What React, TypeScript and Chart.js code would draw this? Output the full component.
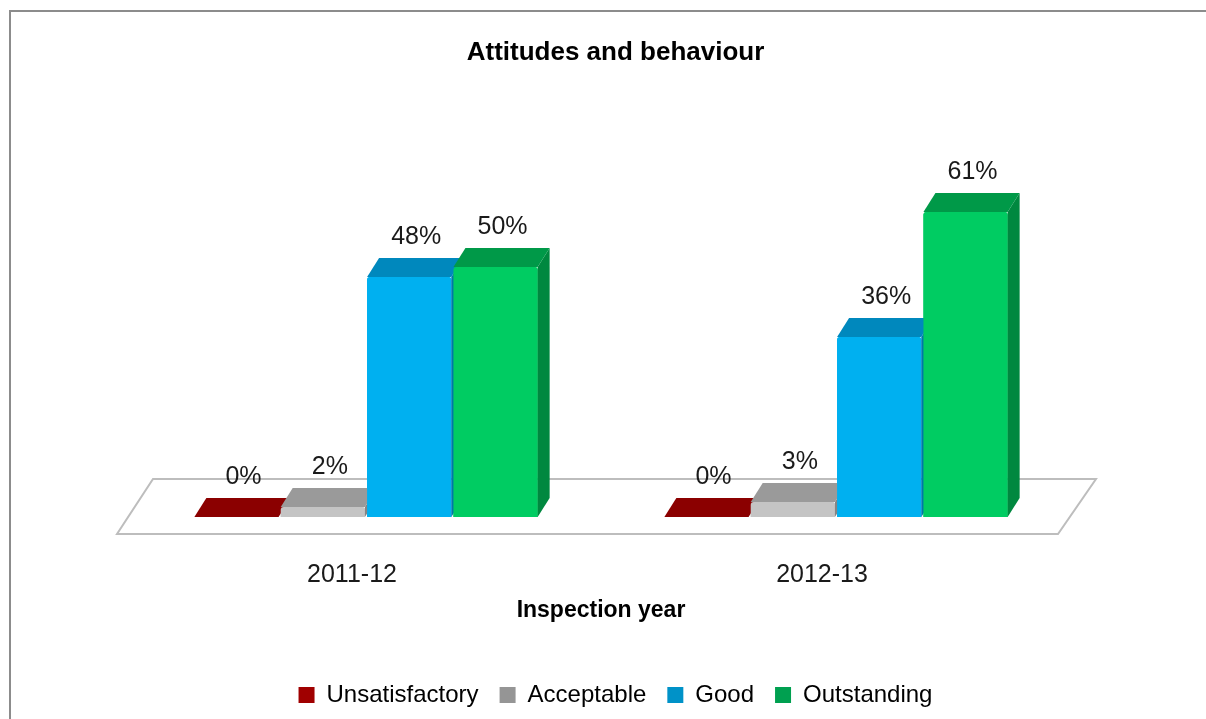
import React, { useEffect, useRef } from "react";
import { Chart, registerables } from "chart.js";

Chart.register(...registerables);

const categories = ["2011-12", "2012-13"];
const seriesNames = ["Unsatisfactory", "Acceptable", "Good", "Outstanding"];
const unsatisfactory = [0, 0];
const acceptable = [2, 3];
const good = [48, 36];
const outstanding = [50, 61];

const frontColors = ["#9a0000", "#c4c4c4", "#00b0f0", "#00cc62"];
const topColors = ["#8b0000", "#9a9a9a", "#0088bd", "#009948"];
const sideColors = ["#6e0000", "#858585", "#0078a8", "#00883f"];
const legendColors = ["#a00000", "#959595", "#0092c8", "#00a050"];

const FONT = "'Liberation Sans', Arial, sans-serif";
const DX = 12;
const DY = 19;

const depthPlugin = {
  id: "depth3d",
  beforeDatasetsDraw(chart: any) {
    const { ctx, chartArea, scales } = chart;
    const y0 = scales.y.getPixelForValue(0);
    ctx.save();
    ctx.beginPath();
    ctx.moveTo(chartArea.left + 22, y0 - 38);
    ctx.lineTo(chartArea.right + 25, y0 - 38);
    ctx.lineTo(chartArea.right - 13, y0 + 17);
    ctx.lineTo(chartArea.left - 14, y0 + 17);
    ctx.closePath();
    ctx.fillStyle = "#ffffff";
    ctx.fill();
    ctx.strokeStyle = "#bdbdbd";
    ctx.lineWidth = 2;
    ctx.stroke();
    ctx.restore();
  },
  afterDatasetsDraw(chart: any) {
    const { ctx } = chart;
    const n = chart.data.labels.length;
    const nd = chart.data.datasets.length;
    ctx.save();
    for (let j = 0; j < n; j++) {
      for (let i = 0; i < nd; i++) {
        const meta = chart.getDatasetMeta(i);
        const bar = meta.data[j];
        if (!bar) continue;
        const { x, y, base, width } = bar.getProps(["x", "y", "base", "width"], true);
        const L = x - width / 2;
        const R = x + width / 2;
        bar.draw(ctx);
        // side face
        ctx.beginPath();
        ctx.moveTo(R, y);
        ctx.lineTo(R + DX, y - DY);
        ctx.lineTo(R + DX, base - DY);
        ctx.lineTo(R, base);
        ctx.closePath();
        ctx.fillStyle = sideColors[i];
        ctx.fill();
        // top face
        ctx.beginPath();
        ctx.moveTo(L, y);
        ctx.lineTo(R, y);
        ctx.lineTo(R + DX, y - DY);
        ctx.lineTo(L + DX, y - DY);
        ctx.closePath();
        ctx.fillStyle = topColors[i];
        ctx.fill();
      }
    }
    // data labels
    ctx.font = `25px ${FONT}`;
    ctx.fillStyle = "#1a1a1a";
    ctx.textAlign = "center";
    ctx.textBaseline = "alphabetic";
    for (let i = 0; i < nd; i++) {
      const meta = chart.getDatasetMeta(i);
      const values = chart.data.datasets[i].data;
      meta.data.forEach((bar: any, j: number) => {
        const { x, y } = bar.getProps(["x", "y"], true);
        ctx.fillText(`${values[j]}%`, x + 7, y - 33);
      });
    }
    ctx.restore();
  },
};

export default function App() {
  const canvasRef = useRef<HTMLCanvasElement | null>(null);

  useEffect(() => {
    if (!canvasRef.current) return;
    Chart.defaults.font.family = FONT;
    const seriesValues = [unsatisfactory, acceptable, good, outstanding];
    const chart = new Chart(canvasRef.current, {
      type: "bar",
      data: {
        labels: categories,
        datasets: seriesNames.map((name, i) => ({
          label: name,
          data: seriesValues[i],
          backgroundColor: frontColors[i],
          borderWidth: 0,
          borderRadius: 3,
          categoryPercentage: 0.735,
          barPercentage: 0.975,
        })),
      },
      options: {
        animation: false,
        responsive: true,
        maintainAspectRatio: false,
        layout: { padding: { left: 14, right: 0, top: 0, bottom: 2 } },
        plugins: {
          tooltip: { enabled: false },
          title: {
            display: true,
            text: "Attitudes and behaviour",
            color: "#000",
            font: { family: FONT, size: 26, weight: "bold" },
            padding: { top: 25.4, bottom: 98.4 },
          },
          legend: {
            display: true,
            position: "bottom",
            labels: {
              color: "#000",
              font: { family: FONT, size: 24 },
              boxWidth: 16,
              boxHeight: 16,
              padding: 21,
              generateLabels: (c: any) => {
                const items = Chart.defaults.plugins.legend.labels.generateLabels(c);
                return items.map((it: any, i: number) => ({
                  ...it,
                  fillStyle: legendColors[i],
                  strokeStyle: legendColors[i],
                  lineWidth: 0,
                }));
              },
            },
          },
        },
        scales: {
          x: {
            type: "category",
            offset: true,
            grid: { display: false, drawTicks: false },
            border: { display: false },
            ticks: {
              color: "#1a1a1a",
              font: { family: FONT, size: 25 },
              padding: 43.5,
              labelOffset: -14,
            },
            title: {
              display: true,
              text: "Inspection year",
              color: "#000",
              font: { family: FONT, size: 23, weight: "bold" },
              padding: { top: 0, bottom: 37.2 },
            },
            afterFit: (s: any) => {
              s.height = 145;
            },
          },
          y: {
            type: "linear",
            position: "left",
            min: 0,
            max: 70,
            ticks: { display: false },
            grid: { display: false, drawTicks: false },
            border: { display: false },
            afterFit: (s: any) => {
              s.width = 106;
            },
          },
          y2: {
            type: "linear",
            position: "right",
            min: 0,
            max: 70,
            ticks: { display: false },
            grid: { display: false, drawTicks: false },
            border: { display: false },
            afterFit: (s: any) => {
              s.width = 135;
            },
          },
        },
      },
      plugins: [depthPlugin],
    });
    return () => chart.destroy();
  }, []);

  return (
    <div
      style={{
        position: "absolute",
        left: 9,
        top: 10,
        width: 1195,
        height: 707,
        borderLeft: "2px solid #8c8c8c",
        borderTop: "2px solid #8c8c8c",
        background: "#fff",
      }}
    >
      <div style={{ position: "relative", width: 1195, height: 707 }}>
        <canvas ref={canvasRef} />
      </div>
    </div>
  );
}
